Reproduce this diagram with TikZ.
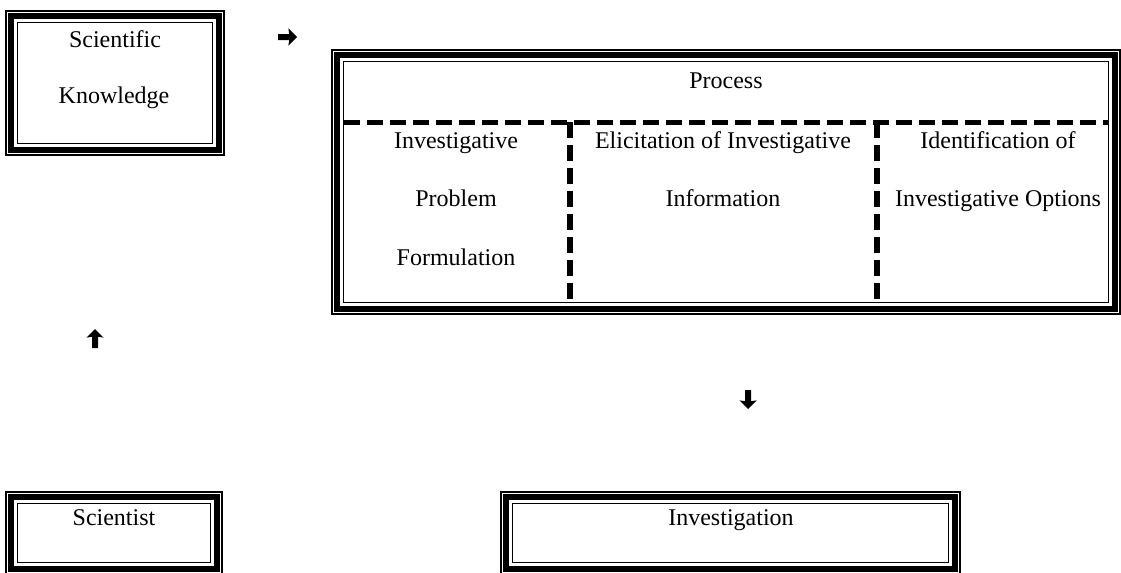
\documentclass[tikz,border=0pt]{standalone}
\usepackage{fontspec}
\setmainfont{Liberation Serif}
\usetikzlibrary{shapes.arrows}

\tikzset{
  thinrule/.style={line width=0.65pt},
  thickrule/.style={line width=2.9pt},
  panel/.style={draw, thinrule, inner sep=0pt},
  cellrule/.style={line width=2.5pt, dash pattern=on 8pt off 3.5pt},
  colrule/.style={line width=3pt, dash pattern=on 8pt off 3.5pt},
  txt/.style={font=\fontsize{12}{14}\selectfont, inner sep=0pt, text height=8.3pt, text depth=2.5pt},
  glyph/.style={single arrow, fill, draw=none, inner sep=1.3pt, minimum height=9.5pt,
    single arrow head extend=2.8pt, single arrow head indent=0.4pt}
}
% thin-thick-thin border inside a panel node
\newcommand{\panelframe}[1]{%
  \draw[thickrule] ([shift={(6,6)}]#1.north west) rectangle ([shift={(-6,-6)}]#1.south east);
  \draw[thinrule] ([shift={(12,12)}]#1.north west) rectangle ([shift={(-12,-12)}]#1.south east);
}

\begin{document}
\begin{tikzpicture}[x=0.5pt, y=-0.5pt]
\useasboundingbox (0,0) rectangle (1121,573);

% boxes
\node[panel, minimum width=109pt, minimum height=72pt] (knowledge) at (115,83) {};
\node[panel, minimum width=394pt, minimum height=132pt] (process) at (726,182) {};
\node[panel, minimum width=108pt, minimum height=41pt] (scientist) at (114,533) {};
\node[panel, minimum width=229.5pt, minimum height=41pt] (investigation) at (730.5,533) {};
\panelframe{knowledge}
\panelframe{process}
\panelframe{scientist}
\panelframe{investigation}

% table rules in the process box
\draw[cellrule] (344,122) -- (1109,122);
\draw[colrule] (570,122) -- (570,301);
\draw[colrule] (877,122) -- (877,301);

% texts
\node[txt] (sk1) at (115,42) {Scientific};
\node[txt] (sk2) at (114,98) {Knowledge};
\node[txt] (proc) at (726,83) {Process};
\node[txt] (c1a) at (456,143) {Investigative};
\node[txt] (c1b) at (456,201) {Problem};
\node[txt] (c1c) at (456,260) {Formulation};
\node[txt] (c2a) at (723,143) {Elicitation of Investigative};
\node[txt] (c2b) at (723,201) {Information};
\node[txt] (c3a) at (998,143) {Identification of};
\node[txt] (c3b) at (998,201) {Investigative Options};
\node[txt] (sc) at (114,520) {Scientist};
\node[txt] (inv) at (731,520) {Investigation};

% arrow glyphs
\node[glyph] (right) at (286,37) {};
\node[glyph, shape border rotate=90] (up) at (95,340) {};
\node[glyph, shape border rotate=270] (down) at (748,398) {};
\end{tikzpicture}
\end{document}
